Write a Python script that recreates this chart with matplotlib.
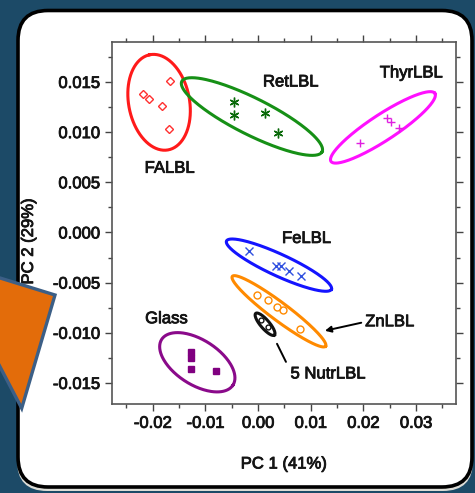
import numpy as np
import matplotlib
matplotlib.use("Agg")
import matplotlib.pyplot as plt
import matplotlib.patheffects as pe
from matplotlib.patches import FancyBboxPatch, Polygon
from matplotlib.transforms import IdentityTransform
from matplotlib.ticker import MultipleLocator, FormatStrFormatter

plt.rcParams['font.family'] = ['Liberation Sans', 'DejaVu Sans']

# sample groups, PCA scores and 95% ellipses
groups = ['FALBL', 'RetLBL', 'ThyrLBL', 'FeLBL', 'ZnLBL', '5 NutrLBL', 'Glass']
colors = ['#ff1a1a', '#169016', '#ff10ff', '#1414ff', '#ff8a00', '#111111', '#8a0a8a']
marker_colors = ['#ff3030', '#0a6a0a', '#e020e0', '#3050e0', '#ff8a00', '#111111', '#800080']

pc1 = [
    [-0.0218, -0.0207, -0.0183, -0.0167, -0.0170],
    [-0.0046, -0.0046, 0.0013, 0.0038],
    [0.0193, 0.0244, 0.0253, 0.0267],
    [-0.0017, 0.0035, 0.0044, 0.0059, 0.0082],
    [-0.0002, 0.0019, 0.0036, 0.0047, 0.0079],
    [0.0005, 0.0018],
    [-0.0128, -0.0128, -0.0128, -0.0080],
]
pc2 = [
    [0.01375, 0.01328, 0.01258, 0.01507, 0.01029],
    [0.0130, 0.0117, 0.0119, 0.0099],
    [0.0089, 0.0114, 0.0110, 0.0104],
    [-0.0019, -0.0033, -0.0033, -0.0038, -0.0043],
    [-0.0062, -0.0067, -0.0074, -0.0077, -0.0096],
    [-0.0087, -0.0094],
    [-0.0119, -0.0125, -0.0136, -0.0138],
]

# ellipse centre and two conjugate semi-axes (PC1, PC2)
ell_cx = [-0.0188, -0.00116, 0.02372, 0.00397, 0.00397, 0.00133, -0.01154]
ell_cy = [0.01297, 0.01155, 0.01047, -0.00326, -0.00786, -0.00915, -0.01294]
ell_u = [(-0.00176, 0.00474), (0.01332, -0.00351), (0.00987, 0.00339),
         (0.00996, -0.00241), (0.00886, -0.00348), (0.00178, -0.00108),
         (0.00677, -0.00228)]
ell_v = [(0.00567, 0.00059), (-0.00156, -0.00163), (0.00135, -0.00109),
         (-0.00087, -0.00099), (-0.00102, -0.00072), (-0.00063, -0.00029),
         (-0.0023, -0.00188)]

label_x = [-0.0168, 0.0062, 0.0291, 0.0092, 0.0250, 0.0133, -0.0174]
label_y = [0.0064, 0.0150, 0.0159, -0.0006, -0.0089, -0.0141, -0.0086]

# pointer lines for the crowded groups: (start, tip)
zn_pointer = [(0.0196, -0.0090), (0.0127, -0.0098)]
nutr_pointer = [(0.0053, -0.0129), (0.0036, -0.0111)]

markers = ['D', (6, 2, 0), '+', 'x', 'o', 'o', 's']
filled = [False, True, True, True, False, False, True]
msizes = [4.5, 7, 6, 6, 5, 3.5, 4.5]

W, H = 475, 493
fig = plt.figure(figsize=(W / 100, H / 100), dpi=100)
fig.patch.set_facecolor('#1c4a67')

# white slide panel with a faint shadow
shadow = FancyBboxPatch((17, 2), 456, 476, boxstyle='round,pad=0,rounding_size=30',
                        transform=IdentityTransform(), facecolor='#dcdcd6',
                        edgecolor='none', zorder=-2)
panel = FancyBboxPatch((18, 6), 454, 476.5, boxstyle='round,pad=0,rounding_size=30',
                       transform=IdentityTransform(), facecolor='white',
                       edgecolor='black', linewidth=2.6, zorder=-1)
fig.patches.extend([shadow, panel])

ax = fig.add_axes([111.7 / W, 1 - 404 / H, 344.3 / W, 361.7 / H])
ax.set_facecolor('none')
ax.set_zorder(1)

ink = '#141414'
heavy = [pe.withStroke(linewidth=0.6, foreground=ink)]
fs = 12

t = np.linspace(0, 2 * np.pi, 240)
for i, name in enumerate(groups):
    ex = ell_cx[i] + ell_u[i][0] * np.cos(t) + ell_v[i][0] * np.sin(t)
    ey = ell_cy[i] + ell_u[i][1] * np.cos(t) + ell_v[i][1] * np.sin(t)
    ax.plot(ex, ey, color=colors[i], lw=2.2, zorder=2)
    mc = marker_colors[i]
    ax.plot(pc1[i], pc2[i], linestyle='none', marker=markers[i], ms=msizes[i],
            mec=mc, mfc=mc if filled[i] else 'none', mew=1.0, zorder=3)
    ax.text(label_x[i], label_y[i], name, ha='center', va='center',
            fontsize=fs, color=ink, path_effects=heavy)

ax.annotate('', xy=zn_pointer[1], xytext=zn_pointer[0],
            arrowprops=dict(arrowstyle='-|>', color='black', lw=1.4,
                            mutation_scale=9, shrinkA=0, shrinkB=0))
ax.annotate('', xy=nutr_pointer[1], xytext=nutr_pointer[0],
            arrowprops=dict(arrowstyle='-', color='black', lw=1.4,
                            shrinkA=0, shrinkB=0))

ax.set_xlim(-0.0278, 0.0376)
ax.set_ylim(-0.0171, 0.01895)
ax.xaxis.set_major_locator(MultipleLocator(0.01))
ax.xaxis.set_minor_locator(MultipleLocator(0.005))
ax.yaxis.set_major_locator(MultipleLocator(0.005))
ax.yaxis.set_minor_locator(MultipleLocator(0.0025))
ax.xaxis.set_major_formatter(FormatStrFormatter('%.2f'))
ax.yaxis.set_major_formatter(FormatStrFormatter('%.3f'))
ax.tick_params(which='both', direction='out', right=True,
               color='#444444', labelsize=fs, labelcolor=ink)
ax.tick_params(which='both', axis='x', top=True)
ax.tick_params(which='major', length=5, width=1.0)
ax.tick_params(which='minor', length=3, width=1.0)
for lbl in ax.get_xticklabels() + ax.get_yticklabels():
    lbl.set_path_effects(heavy)
for s in ax.spines.values():
    s.set_color('#555555')
    s.set_linewidth(1.2)

ax.set_xlabel('PC 1 (41%)', fontsize=fs, color=ink, path_effects=heavy)
ax.set_ylabel('PC 2 (29%)', fontsize=fs, color=ink, path_effects=heavy)
ax.xaxis.set_label_coords(0.5, -0.145)
ax.yaxis.set_label_coords(-0.22, 0.45)

# orange call-out arrow on the left edge
arrow = Polygon([(-20, H - 271.8), (55, H - 295), (21.7, H - 408.3), (-20, H - 328.4)],
                closed=True, transform=IdentityTransform(), facecolor='#e36c0a',
                edgecolor='#3c5f86', linewidth=2.4, zorder=5)
fig.patches.append(arrow)

fig.savefig('out.png', dpi=100, facecolor=fig.get_facecolor())
